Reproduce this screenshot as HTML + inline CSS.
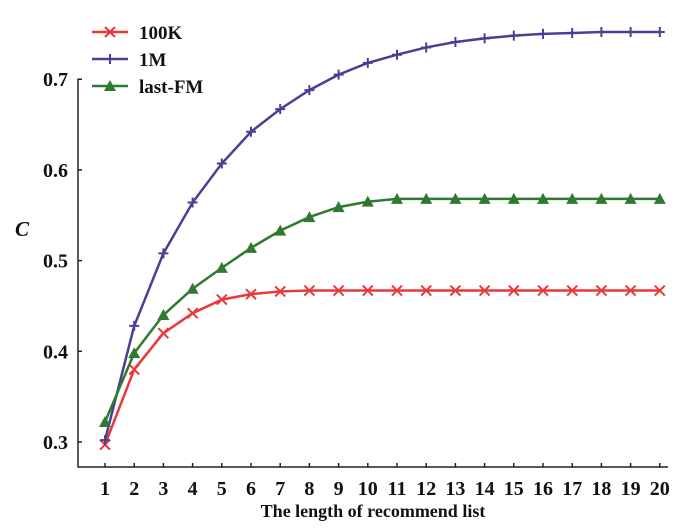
<!DOCTYPE html>
<html><head><meta charset="utf-8"><style>
body{margin:0;background:#fff}
svg text{font-family:"Liberation Serif",serif;fill:#111}
</style></head><body>
<svg id="chart" width="700" height="524" viewBox="0 0 700 524" xmlns="http://www.w3.org/2000/svg"></svg>
<script>
const categories=[1,2,3,4,5,6,7,8,9,10,11,12,13,14,15,16,17,18,19,20];
const series100K=[0.297,0.380,0.420,0.442,0.457,0.463,0.466,0.467,0.467,0.467,0.467,0.467,0.467,0.467,0.467,0.467,0.467,0.467,0.467,0.467];
const series1M=[0.302,0.428,0.508,0.564,0.607,0.642,0.667,0.688,0.705,0.718,0.727,0.735,0.741,0.745,0.748,0.750,0.751,0.752,0.752,0.752];
const seriesFM=[0.322,0.398,0.440,0.469,0.492,0.514,0.533,0.548,0.559,0.565,0.568,0.568,0.568,0.568,0.568,0.568,0.568,0.568,0.568,0.568];
const yTicks=[0.3,0.4,0.5,0.6,0.7];
const NS="http://www.w3.org/2000/svg";
const svg=document.getElementById('chart');
function x(v){return 105+(v-1)*29.2;}
function y(v){return 442-(v-0.3)*907;}
function el(t,a,p){const e=document.createElementNS(NS,t);for(const k in a)e.setAttribute(k,a[k]);(p||svg).appendChild(e);return e;}
const ax=el('g',{});


el('path',{d:`M82 ${y(0.7)} H78 V467 H668`,fill:'none',stroke:'#222','stroke-width':1.5},ax);
yTicks.forEach(t=>{
  el('line',{x1:78,x2:82,y1:y(t),y2:y(t),stroke:'#222','stroke-width':1.5},ax);
  const tx=el('text',{x:68,y:y(t)+7,'text-anchor':'end','font-size':20,'font-weight':'bold'},ax);
  
  
  tx.textContent=t.toFixed(1);
});
categories.forEach(c=>{
  el('line',{x1:x(c),x2:x(c),y1:467,y2:463,stroke:'#222','stroke-width':1.5},ax);
  const tx=el('text',{x:x(c),y:495,'text-anchor':'middle','font-size':20,'font-weight':'bold'},ax);
  
  
  tx.textContent=c;
});
const xt=el('text',{x:373,y:517,'text-anchor':'middle','font-size':18,'font-weight':'bold'});


xt.textContent='The length of recommend list';
const yt=el('text',{x:22,y:236,'text-anchor':'middle','font-size':21,'font-style':'italic','font-weight':'bold'});


yt.textContent='C';
function marker(type,cx,cy,col,g){
  if(type==='x'){el('path',{d:`M${cx-5} ${cy-5}L${cx+5} ${cy+5}M${cx+5} ${cy-5}L${cx-5} ${cy+5}`,stroke:col,'stroke-width':2},g);}
  else if(type==='+'){el('path',{d:`M${cx-5} ${cy}H${cx+5}M${cx} ${cy-5}V${cy+5}`,stroke:col,'stroke-width':2},g);}
  else{el('path',{d:`M${cx} ${cy-6}L${cx+6} ${cy+5}H${cx-6}Z`,fill:col},g);}
}
const defs=[['series-100k',series100K,'#e8383a','x'],['series-1m',series1M,'#4a3f94','+'],['series-last-fm',seriesFM,'#2f7a2f','t']];
defs.forEach(([n,d,col,m])=>{
  const g=el('g',{});
  
  
  el('polyline',{points:d.map((v,i)=>x(categories[i])+','+y(v)).join(' '),fill:'none',stroke:col,'stroke-width':2.5},g);
  d.forEach((v,i)=>marker(m,x(categories[i]),y(v),col,g));
});
const leg=el('g',{});


[['100K','#e8383a','x',32],['1M','#4a3f94','+',59],['last-FM','#2f7a2f','t',86]].forEach(([l,col,m,yy])=>{
  const g=el('g',{},leg);
  
  
  el('line',{x1:92,x2:128,y1:yy,y2:yy,stroke:col,'stroke-width':2.5},g);
  marker(m,110,yy,col,g);
  const t=el('text',{x:139,y:yy+7,'font-size':19,'font-weight':'bold'},g);
  t.textContent=l;
});
</script>
</body></html>
